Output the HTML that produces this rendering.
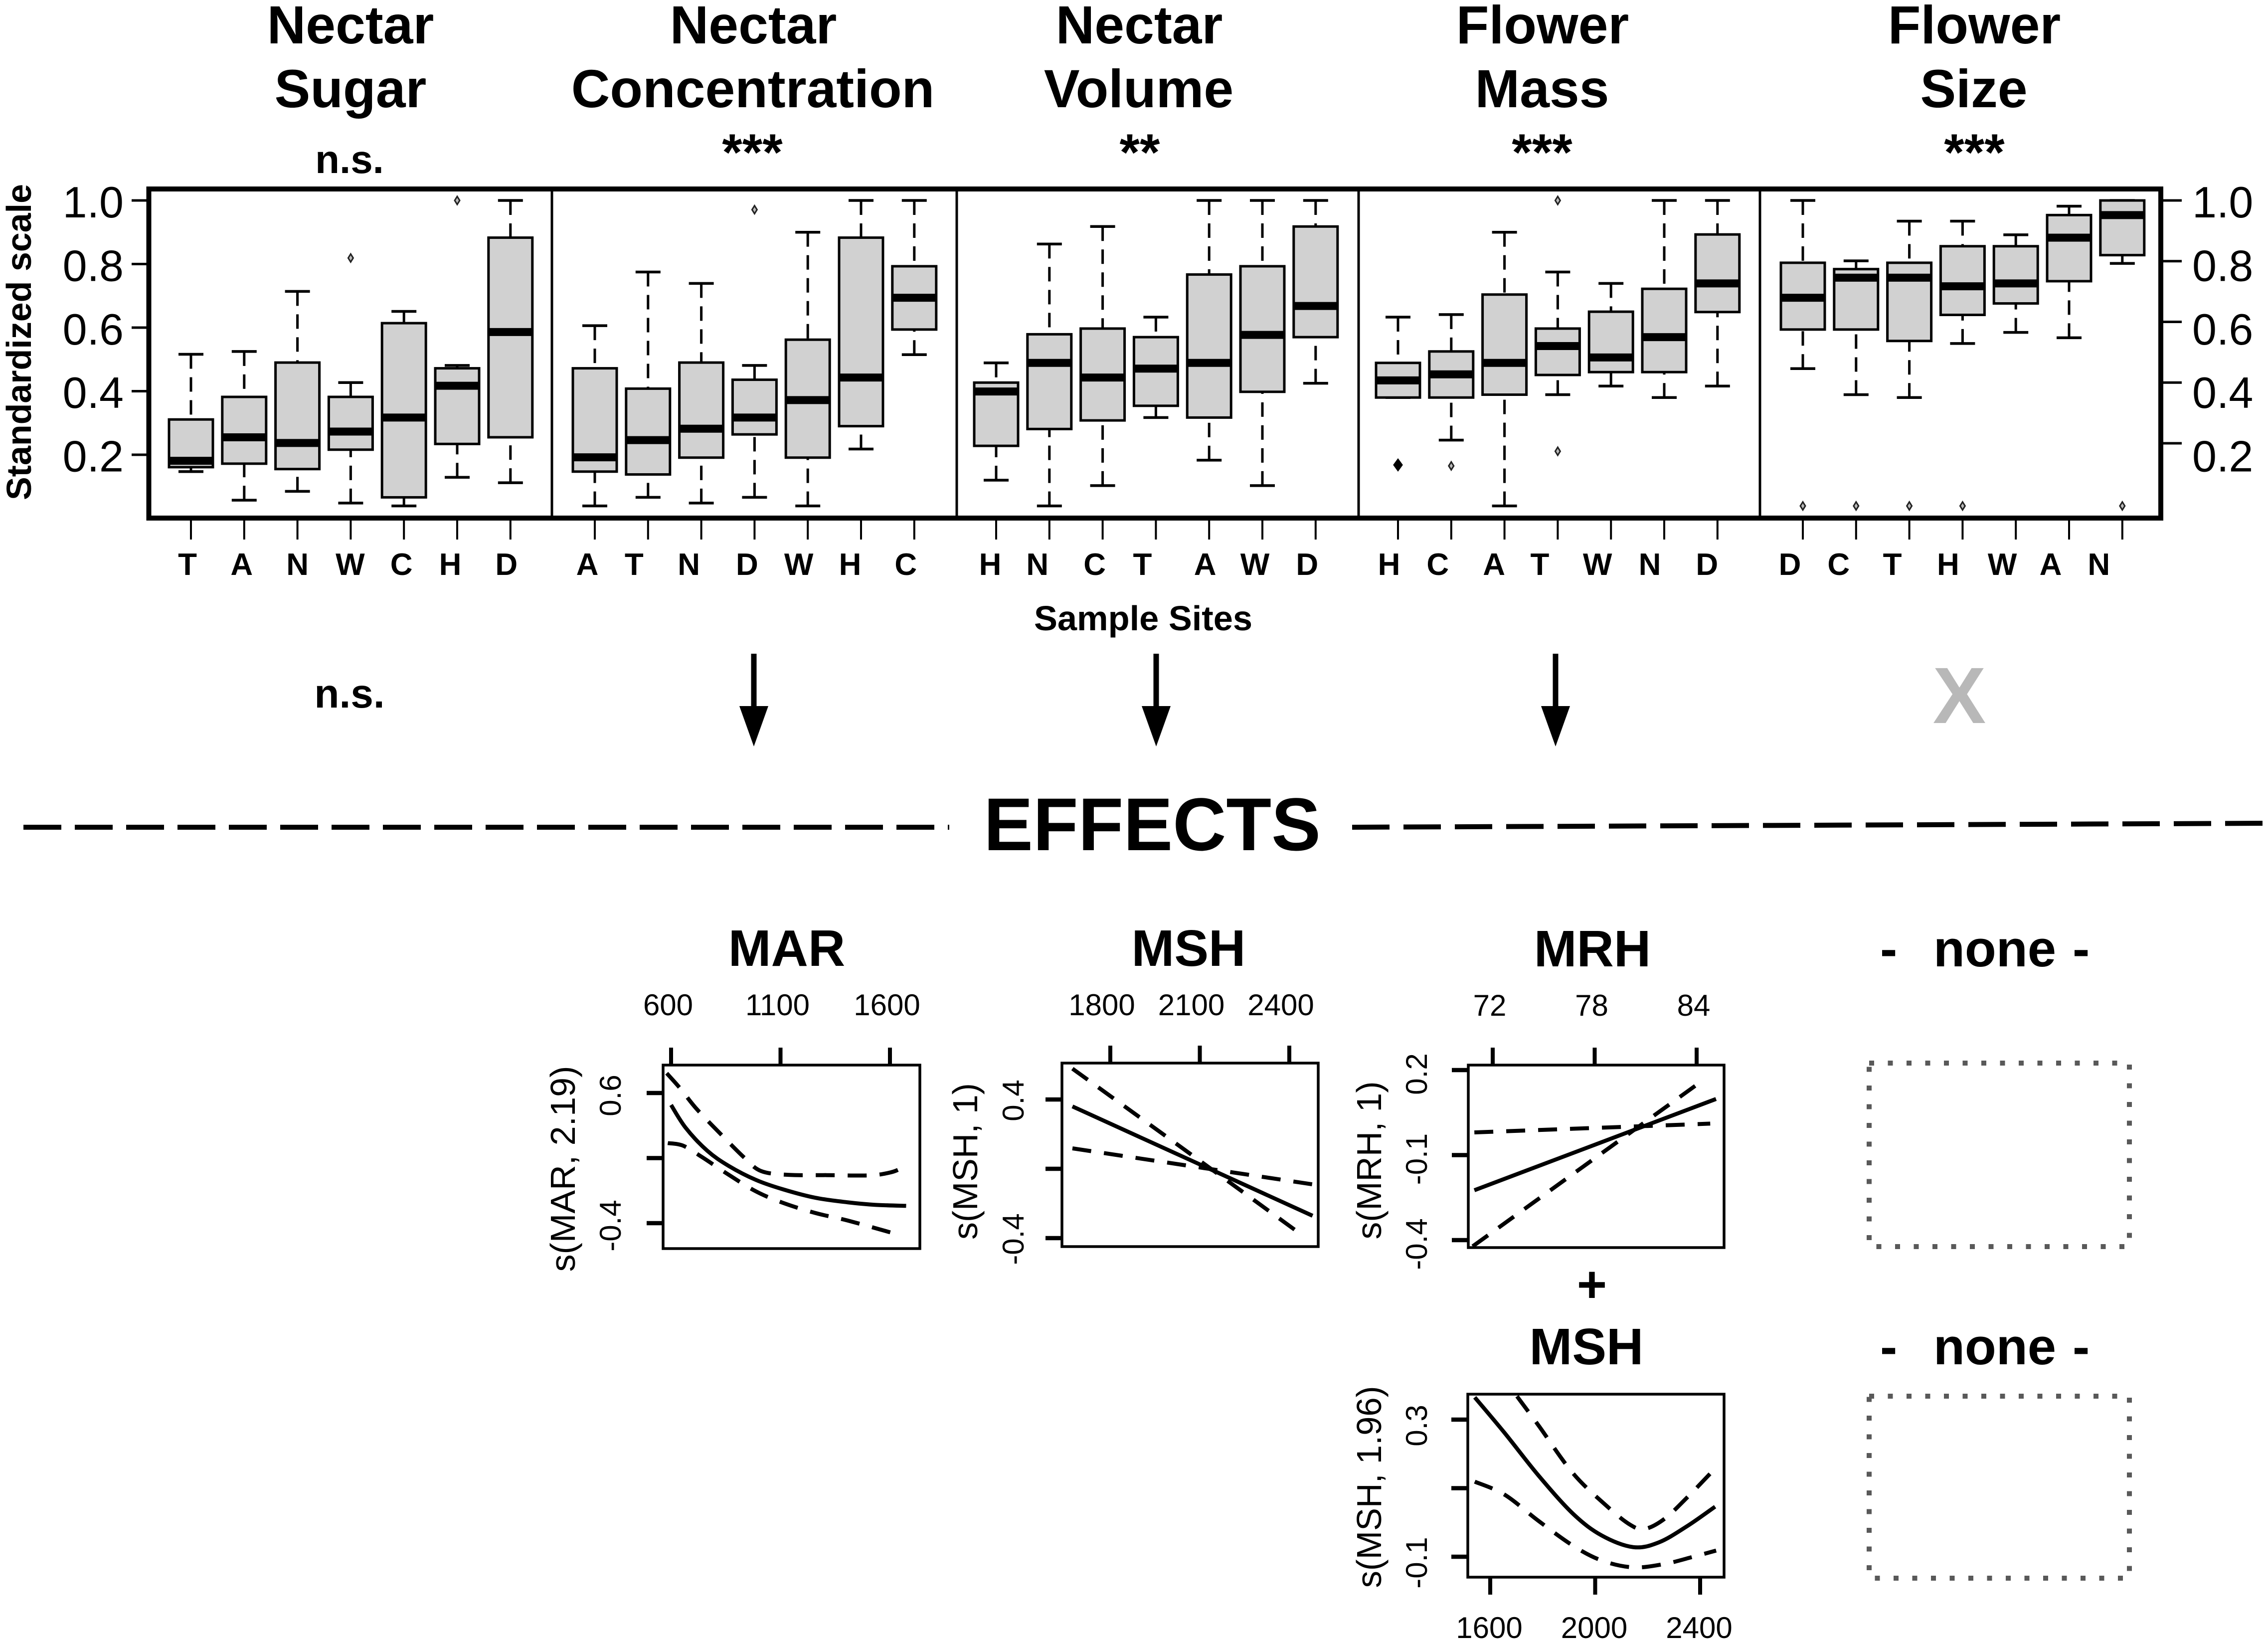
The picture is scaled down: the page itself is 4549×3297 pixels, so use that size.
<!DOCTYPE html>
<html>
<head>
<meta charset="utf-8">
<title>Nectar and flower traits by sample site, with smooth effects</title>
<style>
html,body{margin:0;padding:0;background:#fff;}
svg{display:block;}
text{font-family:"Liberation Sans",sans-serif;fill:#000;}
.b{font-weight:700;}
</style>
</head>
<body>
<svg id="fig" xmlns="http://www.w3.org/2000/svg" width="4549" height="3297" viewBox="0 0 4549 3297">
<rect x="0" y="0" width="4549" height="3297" fill="#fff"/>

<g class="b" text-anchor="middle" font-size="107.5">
<text class="b" x="703" y="87">Nectar</text>
<text class="b" x="703" y="215">Sugar</text>
<text class="b" x="1511" y="87">Nectar</text>
<text class="b" x="1510" y="215">Concentration</text>
<text class="b" x="2285" y="87">Nectar</text>
<text class="b" x="2284" y="215">Volume</text>
<text class="b" x="3094" y="87">Flower</text>
<text class="b" x="3093" y="215">Mass</text>
<text class="b" x="3960" y="87">Flower</text>
<text class="b" x="3959" y="215">Size</text>
</g>

<g text-anchor="middle">
<text class="b" x="701" y="347" font-size="80">n.s.</text>
<text class="b" x="1509" y="341" font-size="104">***</text>
<text class="b" x="2286" y="341" font-size="104">**</text>
<text class="b" x="3093" y="341" font-size="104">***</text>
<text class="b" x="3960" y="341" font-size="104">***</text>
</g>

<g id="boxplots"></g>

<text class="b" text-anchor="middle" font-size="70" x="62" y="686" textLength="634" lengthAdjust="spacingAndGlyphs" transform="rotate(-90 62 686)">Standardized scale</text>
<text class="b" text-anchor="middle" font-size="70" x="2293" y="1264" textLength="438" lengthAdjust="spacingAndGlyphs">Sample Sites</text>

<text class="b" text-anchor="middle" font-size="82" x="701" y="1419">n.s.</text>
<g>
<rect x="1506.5" y="1311" width="11" height="106" fill="#000"/>
<polygon points="1483,1416 1541,1416 1512,1497" fill="#000"/>
</g>
<g>
<rect x="2313.5" y="1311" width="11" height="106" fill="#000"/>
<polygon points="2290,1416 2348,1416 2319,1497" fill="#000"/>
</g>
<g>
<rect x="3114.5" y="1311" width="11" height="106" fill="#000"/>
<polygon points="3091,1416 3149,1416 3120,1497" fill="#000"/>
</g>
<text class="b" text-anchor="middle" font-size="160" x="3930" y="1450" style="fill:#b8b8b8">X</text>

<line x1="47" y1="1659" x2="1904" y2="1659" stroke="#000" stroke-width="10" stroke-dasharray="76 27"/>
<text class="b" text-anchor="middle" font-size="150" x="2311" y="1705" textLength="676" lengthAdjust="spacingAndGlyphs">EFFECTS</text>
<line x1="2712" y1="1659" x2="4549" y2="1651" stroke="#000" stroke-width="10" stroke-dasharray="75 28"/>

<text class="b" text-anchor="middle" font-size="103" x="1578" y="1937">MAR</text>
<text class="b" text-anchor="middle" font-size="103" x="2384" y="1937">MSH</text>
<text class="b" text-anchor="middle" font-size="103" x="3194" y="1938">MRH</text>
<text class="b" text-anchor="middle" font-size="103" x="3193" y="2611">+</text>
<text class="b" text-anchor="middle" font-size="103" x="3182" y="2736">MSH</text>

<text class="b" font-size="103" y="1938"><tspan x="3771">-</tspan><tspan x="3878">none</tspan><tspan x="4157">-</tspan></text>
<text class="b" font-size="103" y="2736"><tspan x="3771">-</tspan><tspan x="3878">none</tspan><tspan x="4157">-</tspan></text>
<rect x="3749" y="2132" width="522" height="368" fill="none" stroke="#595959" stroke-width="10" stroke-dasharray="10 27.5"/>
<rect x="3749" y="2800" width="522" height="365" fill="none" stroke="#595959" stroke-width="10" stroke-dasharray="10 27.5"/>

<g id="effects"></g>
</svg>

<script>
/* ---------- boxplot data (standardized scale) ---------- */
const sugarSites = ['T','A','N','W','C','H','D'];
const sugarLow = [.147,.057,.085,.048,.039,.129,.112];
const sugarQ1  = [.161,.172,.155,.216,.066,.234,.255];
const sugarMed = [.181,.255,.237,.273,.317,.417,.586];
const sugarQ3  = [.311,.382,.490,.382,.614,.472,.883];
const sugarHigh= [.516,.525,.714,.427,.651,.481,1.0];
const sugarOutliers = [[],[],[],[.819],[],[1.0],[]];

const concSites = ['A','T','N','D','W','H','C'];
const concLow = [.039,.066,.048,.066,.039,.218,.515];
const concQ1  = [.147,.138,.191,.264,.191,.290,.594];
const concMed = [.192,.246,.282,.317,.372,.443,.694];
const concQ3  = [.472,.408,.490,.436,.562,.883,.793];
const concHigh= [.606,.775,.739,.481,.900,1.0,1.0];
const concOutliers = [[],[],[],[.971],[],[],[]];

const volSites = ['H','N','C','T','A','W','D'];
const volLow = [.120,.039,.103,.317,.183,.103,.425];
const volQ1  = [.228,.281,.308,.354,.317,.398,.570];
const volMed = [.399,.489,.443,.471,.489,.577,.668];
const volQ3  = [.427,.579,.597,.570,.767,.793,.918];
const volHigh= [.489,.863,.918,.633,1.0,1.0,1.0];
const volOutliers = [[],[],[],[],[],[],[]];

const massSites = ['H','C','A','T','W','N','D'];
const massLow = [.380,.246,.039,.389,.416,.380,.416];
const massQ1  = [.380,.380,.389,.451,.460,.460,.649];
const massMed = [.434,.453,.489,.542,.506,.570,.739];
const massQ3  = [.489,.525,.704,.597,.650,.722,.893];
const massHigh= [.633,.641,.900,.775,.739,1.0,1.0];
const massOutliers = [[.168],[.165],[],[1.0,.211],[],[],[]];

const sizeSites = ['D','C','T','H','W','A','N'];
const sizeLow = [.471,.389,.380,.550,.585,.568,.802];
const sizeQ1  = [.594,.594,.558,.640,.676,.746,.828];
const sizeMed = [.694,.757,.757,.730,.739,.883,.954];
const sizeQ3  = [.804,.784,.804,.856,.856,.954,1.0];
const sizeHigh= [1.0,.810,.935,.935,.892,.982,1.0];
const sizeOutliers = [[.039],[.039],[.039],[.039],[],[],[.039]];

const yTickValues = [1.0,0.8,0.6,0.4,0.2];
const yTickLabels = ['1.0','0.8','0.6','0.4','0.2'];

/* ---------- smooth-effect data ---------- */
const marXTicks = [600,1100,1600];
const marYTicks = [-0.4,0.1,0.6];
const marYLabels = ['-0.4','','0.6'];
const marFitX = [600,667,765,864,988,1111,1259,1407,1531,1674];
const marFitY = [.508,.332,.157,.039,-.068,-.14,-.205,-.24,-.259,-.267];
const marUpX = [580,642,716,827,938,1012,1136,1309,1506,1605,1662];
const marUpY = [.752,.635,.479,.284,.098,0,-.029,-.031,-.033,-.009,.03];
const marLoX = [585,654,741,864,988,1111,1259,1407,1617];
const marLoY = [.215,.196,.108,-.029,-.156,-.244,-.322,-.38,-.478];

const mshXTicks = [1800,2100,2400];
const mshYTicks = [-0.4,0,0.4];
const mshYLabels = ['-0.4','','0.4'];
const mshFitX = [1673,2478];
const mshFitY = [.36,-.271];
const mshUpX = [1673,2134,2436];
const mshUpY = [.578,.004,-.374];
const mshLoX = [1673,2134,2487];
const mshLoY = [.118,-.001,-.092];

const mrhXTicks = [72,78,84];
const mrhYTicks = [-0.4,-0.1,0.2];
const mrhYLabels = ['-0.4','-0.1','0.2'];
const mrhFitX = [70.92,85.14];
const mrhFitY = [-.224,.098];
const mrhUpX = [70.82,84.3];
const mrhUpY = [-.422,.161];
const mrhLoX = [70.92,84.8];
const mrhLoY = [-.02,.011];

const msh2XTicks = [1600,2000,2400];
const msh2YTicks = [-0.1,0.1,0.3];
const msh2YLabels = ['-0.1','','0.3'];
const msh2FitX = [1541,1655,1785,1916,2025,2145,2243,2352,2457];
const msh2FitY = [.365,.261,.136,.025,-.038,-.072,-.058,-.01,.046];
const msh2UpX = [1702,1785,1916,2047,2134,2189,2265,2352,2439];
const msh2UpY = [.368,.282,.143,.046,-.007,-.019,.011,.074,.143];
const msh2LoX = [1541,1655,1785,1916,2025,2145,2265,2374,2461];
const msh2LoY = [.119,.081,.004,-.068,-.111,-.131,-.121,-.1,-.082];

/* ---------- helpers ---------- */
const NS = 'http://www.w3.org/2000/svg';
function mk(parent, tag, attrs, txt) {
  const el = document.createElementNS(NS, tag);
  for (const k in attrs) el.setAttribute(k, attrs[k]);
  if (txt !== undefined) el.textContent = txt;
  parent.appendChild(el);
  return el;
}

/* ---------- boxplot chart ---------- */
const bp = document.getElementById('boxplots');
const frameL = 298.5, frameR = 4334, frameT = 379, frameB = 1039;
function yLeft(v) { return 402 + (1 - v) * 637.5; }
function yRight(v) { return 402 + (1 - v) * 608.75; }
function yLabelPos(v) { return 404 + (1 - v) * 637; }

const panels = [
  {key:'sugar', sites:sugarSites, lo:sugarLow, q1:sugarQ1, med:sugarMed, q3:sugarQ3, hi:sugarHigh, out:sugarOutliers, tick0:383, nudge:[-7,-5,0,-1,-5,-14,-8], filled:''},
  {key:'concentration', sites:concSites, lo:concLow, q1:concQ1, med:concMed, q3:concQ3, hi:concHigh, out:concOutliers, tick0:1193, nudge:[-15,-28,-25,-15,-18,-22,-17], filled:''},
  {key:'volume', sites:volSites, lo:volLow, q1:volQ1, med:volMed, q3:volQ3, hi:volHigh, out:volOutliers, tick0:1998, nudge:[-12,-24,-16,-27,-8,-15,-17], filled:''},
  {key:'mass', sites:massSites, lo:massLow, q1:massQ1, med:massMed, q3:massQ3, hi:massHigh, out:massOutliers, tick0:2804, nudge:[-18,-27,-21,-36,-27,-29,-21], filled:'H'},
  {key:'size', sites:sizeSites, lo:sizeLow, q1:sizeQ1, med:sizeMed, q3:sizeQ3, hi:sizeHigh, out:sizeOutliers, tick0:3616, nudge:[-26,-35,-34,-29,-27,-37,-47], filled:''}
];
const tickStep = 106.8, boxW = 88, capW = 50;

panels.forEach(function (p) {
  const g = mk(bp, 'g', {});
  
  
  p.sites.forEach(function (site, i) {
    const x = p.tick0 + i * tickStep;
    const box = mk(g, 'g', {});
    
    
    mk(box, 'line', {x1:x, x2:x, y1:yLeft(p.hi[i]), y2:yLeft(p.q3[i]), stroke:'#000', 'stroke-width':5, 'stroke-dasharray':'29 17'});
    mk(box, 'line', {x1:x, x2:x, y1:yLeft(p.lo[i]), y2:yLeft(p.q1[i]), stroke:'#000', 'stroke-width':5, 'stroke-dasharray':'29 17'});
    mk(box, 'line', {x1:x - capW / 2, x2:x + capW / 2, y1:yLeft(p.hi[i]), y2:yLeft(p.hi[i]), stroke:'#000', 'stroke-width':5.5});
    mk(box, 'line', {x1:x - capW / 2, x2:x + capW / 2, y1:yLeft(p.lo[i]), y2:yLeft(p.lo[i]), stroke:'#000', 'stroke-width':5.5});
    mk(box, 'rect', {x:x - boxW / 2, y:yLeft(p.q3[i]), width:boxW, height:yLeft(p.q1[i]) - yLeft(p.q3[i]), fill:'#d1d1d1', stroke:'#000', 'stroke-width':5});
    mk(box, 'line', {x1:x - boxW / 2, x2:x + boxW / 2, y1:yLeft(p.med[i]), y2:yLeft(p.med[i]), stroke:'#000', 'stroke-width':16});
    p.out[i].forEach(function (v) {
      const yy = yLeft(v);
      const solid = p.filled === site;
      const w = solid ? 8 : 5, h = solid ? 11 : 8;
      const o = mk(box, 'polygon', {points:(x - w) + ',' + yy + ' ' + x + ',' + (yy - h) + ' ' + (x + w) + ',' + yy + ' ' + x + ',' + (yy + h), fill:solid ? '#000' : '#bbb', stroke:solid ? '#000' : '#222', 'stroke-width':3});
      
      
    });
    const t = mk(g, 'line', {x1:x, x2:x, y1:1044, y2:1082, stroke:'#000', 'stroke-width':4});
    
    
    const lab = mk(g, 'text', {x:x + p.nudge[i], y:1153, 'font-size':62, 'text-anchor':'middle', class:'b'}, site);
    
    
  });
});

const frame = mk(bp, 'rect', {x:frameL, y:frameT, width:frameR - frameL, height:frameB - frameT, fill:'none', stroke:'#000', 'stroke-width':10});


[1107, 1919, 2725, 3530].forEach(function (x) {
  const d = mk(bp, 'line', {x1:x, x2:x, y1:frameT, y2:frameB, stroke:'#000', 'stroke-width':5});
  
  
});
yTickValues.forEach(function (v, i) {
  const tl = mk(bp, 'line', {x1:264, x2:294, y1:yLeft(v), y2:yLeft(v), stroke:'#000', 'stroke-width':5});
  
  
  const tr = mk(bp, 'line', {x1:4339, x2:4376, y1:yRight(v), y2:yRight(v), stroke:'#000', 'stroke-width':5});
  
  
  const ll = mk(bp, 'text', {x:248, y:yLabelPos(v) + 32, 'font-size':88, 'text-anchor':'end'}, yTickLabels[i]);
  
  
  const lr = mk(bp, 'text', {x:4397, y:yLabelPos(v) + 32, 'font-size':88}, yTickLabels[i]);
  
  
});

/* ---------- smooth effect plots ---------- */
function smoothPath(xs, ys) {
  const pts = xs.map(function (x, i) { return [x, ys[i]]; });
  let d = 'M' + pts[0][0] + ' ' + pts[0][1];
  for (let i = 0; i < pts.length - 1; i++) {
    const p0 = pts[Math.max(i - 1, 0)], p1 = pts[i], p2 = pts[i + 1], p3 = pts[Math.min(i + 2, pts.length - 1)];
    const c1x = p1[0] + (p2[0] - p0[0]) / 6, c1y = p1[1] + (p2[1] - p0[1]) / 6;
    const c2x = p2[0] - (p3[0] - p1[0]) / 6, c2y = p2[1] - (p3[1] - p1[1]) / 6;
    d += ' C' + c1x + ' ' + c1y + ' ' + c2x + ' ' + c2y + ' ' + p2[0] + ' ' + p2[1];
  }
  return d;
}
const fx = document.getElementById('effects');
const plots = [
  {key:'mar', title:'s(MAR, 2.19)', L:1330, R:1845, T:2136, B:2504, xA:600, xPA:1346, xB:1600, xPB:1785, yA:0.6, yPA:2192, yB:-0.4, yPB:2453,
   xTicks:marXTicks, yTicks:marYTicks, yLabels:marYLabels, fitX:marFitX, fitY:marFitY, upX:marUpX, upY:marUpY, loX:marLoX, loY:marLoY,
   xSide:'top', xLabelShift:-6, xLabelBase:2036, yLabelShift:5, yLabelX:1245, titleX:1153, titleY:2344, titleLen:413},
  {key:'msh', title:'s(MSH, 1)', L:2130, R:2644, T:2132, B:2500, xA:1800, xPA:2227, xB:2400, xPB:2586, yA:0.4, yPA:2205, yB:-0.4, yPB:2483,
   xTicks:mshXTicks, yTicks:mshYTicks, yLabels:mshYLabels, fitX:mshFitX, fitY:mshFitY, upX:mshUpX, upY:mshUpY, loX:mshLoX, loY:mshLoY,
   xSide:'top', xLabelShift:-17, xLabelBase:2036, yLabelShift:2, yLabelX:2053, titleX:1960, titleY:2329, titleLen:314},
  {key:'mrh', title:'s(MRH, 1)', L:2945, R:3458, T:2136, B:2502, xA:72, xPA:2994, xB:84, xPB:3403, yA:0.2, yPA:2146, yB:-0.4, yPB:2487,
   xTicks:mrhXTicks, yTicks:mrhYTicks, yLabels:mrhYLabels, fitX:mrhFitX, fitY:mrhFitY, upX:mrhUpX, upY:mrhUpY, loX:mrhLoX, loY:mrhLoY,
   xSide:'top', xLabelShift:-6, xLabelBase:2037, yLabelShift:8, yLabelX:2862, titleX:2770, titleY:2327, titleLen:317},
  {key:'msh-second', title:'s(MSH, 1.96)', L:2944, R:3458, T:2796, B:3163, xA:1600, xPA:2989, xB:2400, xPB:3410, yA:0.3, yPA:2847, yB:-0.1, yPB:3122,
   xTicks:msh2XTicks, yTicks:msh2YTicks, yLabels:msh2YLabels, fitX:msh2FitX, fitY:msh2FitY, upX:msh2UpX, upY:msh2UpY, loX:msh2LoX, loY:msh2LoY,
   xSide:'bottom', xLabelShift:-2, xLabelBase:3285, yLabelShift:12, yLabelX:2862, titleX:2770, titleY:2982, titleLen:405}
];
plots.forEach(function (P) {
  const sx = function (v) { return P.xPA + (v - P.xA) * (P.xPB - P.xPA) / (P.xB - P.xA); };
  const sy = function (v) { return P.yPA + (v - P.yA) * (P.yPB - P.yPA) / (P.yB - P.yA); };
  const g = mk(fx, 'g', {});
  
  

  const fit = mk(g, 'path', {d:smoothPath(P.fitX.map(sx), P.fitY.map(sy)), fill:'none', stroke:'#000', 'stroke-width':8});
  
  
  const up = mk(g, 'path', {d:smoothPath(P.upX.map(sx), P.upY.map(sy)), fill:'none', stroke:'#000', 'stroke-width':8, 'stroke-dasharray':'38 26'});
  
  
  const lo = mk(g, 'path', {d:smoothPath(P.loX.map(sx), P.loY.map(sy)), fill:'none', stroke:'#000', 'stroke-width':8, 'stroke-dasharray':'38 26'});
  
  

  const fr = mk(g, 'rect', {x:P.L, y:P.T, width:P.R - P.L, height:P.B - P.T, fill:'none', stroke:'#000', 'stroke-width':5.5});
  
  

  P.xTicks.forEach(function (v) {
    const top = P.xSide === 'top';
    const tk = mk(g, 'line', {x1:sx(v), x2:sx(v), y1:top ? P.T - 35 : P.B, y2:top ? P.T : P.B + 35, stroke:'#000', 'stroke-width':8});
    
    
    const tx = mk(g, 'text', {x:sx(v) + P.xLabelShift, y:P.xLabelBase, 'font-size':60, 'text-anchor':'middle'}, String(v));
    
    
  });
  P.yTicks.forEach(function (v, i) {
    const tk = mk(g, 'line', {x1:P.L - 33, x2:P.L, y1:sy(v), y2:sy(v), stroke:'#000', 'stroke-width':8.5});
    
    
    if (P.yLabels[i]) {
      const cy = sy(v) + P.yLabelShift;
      const tx = mk(g, 'text', {x:P.yLabelX, y:cy, 'font-size':60, 'text-anchor':'middle', transform:'rotate(-90 ' + P.yLabelX + ' ' + cy + ')'}, P.yLabels[i]);
      
      
    }
  });
  const yt = mk(g, 'text', {x:P.titleX, y:P.titleY, 'font-size':70, 'text-anchor':'middle', textLength:P.titleLen, lengthAdjust:'spacingAndGlyphs', transform:'rotate(-90 ' + P.titleX + ' ' + P.titleY + ')'}, P.title);
  
  
});
</script>
</body>
</html>
